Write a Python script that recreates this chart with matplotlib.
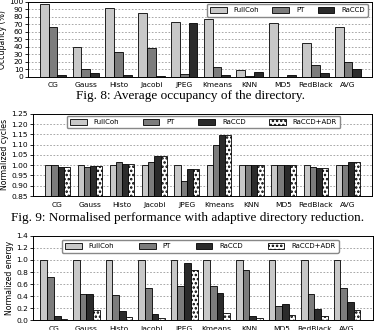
import matplotlib
matplotlib.use("Agg")
import matplotlib.pyplot as plt
import numpy as np

apps = ["CG", "Gauss", "Histo", "Jacobi", "JPEG", "Kmeans", "KNN", "MD5", "RedBlack", "AVG"]

# Fig. 8 - directory occupancy (%)
occ_fullcoh = [97, 40, 92, 85, 73, 77, 9, 72, 45.5, 66]
occ_pt = [67, 10.5, 33, 38, 4, 13, 1, 0.5, 16, 20.5]
occ_raccd = [2, 5, 2, 1.5, 71.5, 3, 6, 2, 5, 11]

# Fig. 9 - normalized cycles
cyc_fullcoh = [1.0, 1.0, 1.0, 1.0, 1.0, 1.0, 1.0, 1.0, 1.0, 1.0]
cyc_pt = [0.999, 0.989, 1.014, 1.017, 0.922, 1.096, 1.0, 1.0, 0.992, 1.003]
cyc_raccd = [0.993, 0.997, 1.008, 1.043, 0.98, 1.149, 1.0, 1.0, 0.984, 1.017]
cyc_adr = [0.99, 0.998, 1.008, 1.043, 0.98, 1.149, 1.0, 0.999, 0.986, 1.017]

# normalized energy
en_fullcoh = [1.0, 1.0, 1.0, 1.0, 1.0, 1.0, 1.0, 1.0, 1.0, 1.0]
en_pt = [0.72, 0.44, 0.42, 0.53, 0.56, 0.57, 0.84, 0.23, 0.44, 0.53]
en_raccd = [0.07, 0.43, 0.15, 0.10, 0.95, 0.45, 0.07, 0.27, 0.18, 0.30]
en_adr = [0.02, 0.17, 0.05, 0.03, 0.83, 0.12, 0.03, 0.09, 0.06, 0.16]

names3 = ["FullCoh", "PT", "RaCCD"]
names4 = ["FullCoh", "PT", "RaCCD", "RaCCD+ADR"]
colors = ["#c8c8c8", "#7c7c7c", "#2b2b2b", "white"]
hatches = [None, None, None, "...."]

plt.rcParams["hatch.linewidth"] = 1.2
plt.rcParams["font.family"] = "DejaVu Sans"

fig = plt.figure(figsize=(3.75, 3.3), dpi=100)
x = np.arange(len(apps))


def panel(rect, series, names, width, ylim, yticks, ylabel, xlim, yfmt, legend_box, ncol):
    ax = fig.add_axes(rect)
    n = len(series)
    for i, vals in enumerate(series):
        off = (i - (n - 1) / 2) * width
        ax.bar(x + off, vals, width, color=colors[i], edgecolor="black",
               linewidth=0.6, hatch=hatches[i], label=names[i], zorder=3)
    ax.set_ylim(*ylim)
    ax.set_xlim(*xlim)
    ax.set_yticks(yticks)
    ax.set_yticklabels([yfmt.format(v) for v in yticks])
    ax.set_xticks(x)
    ax.set_xticklabels(apps)
    ax.tick_params(labelsize=5.4, length=2, width=0.6, pad=1.5)
    ax.tick_params(axis="x", length=0, pad=4)
    ax.set_ylabel(ylabel, fontsize=5.6, labelpad=1.5)
    ax.yaxis.grid(True, color="#999999", linestyle=(0, (2, 2)), linewidth=0.6, zorder=0)
    for s in ax.spines.values():
        s.set_linewidth(0.7)
    ax.legend(ncol=ncol, fontsize=5, loc="upper left", bbox_to_anchor=legend_box,
              mode="expand", handlelength=2.4, handleheight=0.9, handletextpad=1.0,
              borderpad=0.45, borderaxespad=0, fancybox=True, framealpha=1,
              edgecolor="#888888")
    return ax


panel([0.075, 0.767, 0.917, 0.227], [occ_fullcoh, occ_pt, occ_raccd], names3, 0.27,
      (0, 100), list(range(0, 101, 10)), "Occupancy (%)", (-0.76, 9.73), "{:d}",
      (0.52, 0.8, 0.468, 0.173), 3)

panel([0.088, 0.406, 0.904, 0.249], [cyc_fullcoh, cyc_pt, cyc_raccd, cyc_adr], names4, 0.19,
      (0.85, 1.25), [round(0.85 + 0.05 * i, 2) for i in range(9)], "Normalized cycles",
      (-0.76, 9.74), "{:.2f}", (0.1, 0.805, 0.806, 0.171), 4)

panel([0.088, 0.030, 0.906, 0.255], [en_fullcoh, en_pt, en_raccd, en_adr], names4, 0.205,
      (0, 1.4), [round(0.2 * i, 1) for i in range(8)], "Normalized energy",
      (-0.64, 9.79), "{:.1f}", (0.085, 0.786, 0.815, 0.166), 4)

fig.text(0.507, 1 - 96 / 330, "Fig. 8: Average occupancy of the directory.",
         ha="center", va="center", fontsize=9.5, family="Liberation Serif")
fig.text(0.50, 1 - 218 / 330, "Fig. 9: Normalised performance with adaptive directory reduction.",
         ha="center", va="center", fontsize=9.5, family="Liberation Serif")

fig.savefig("out.png", dpi=100)
